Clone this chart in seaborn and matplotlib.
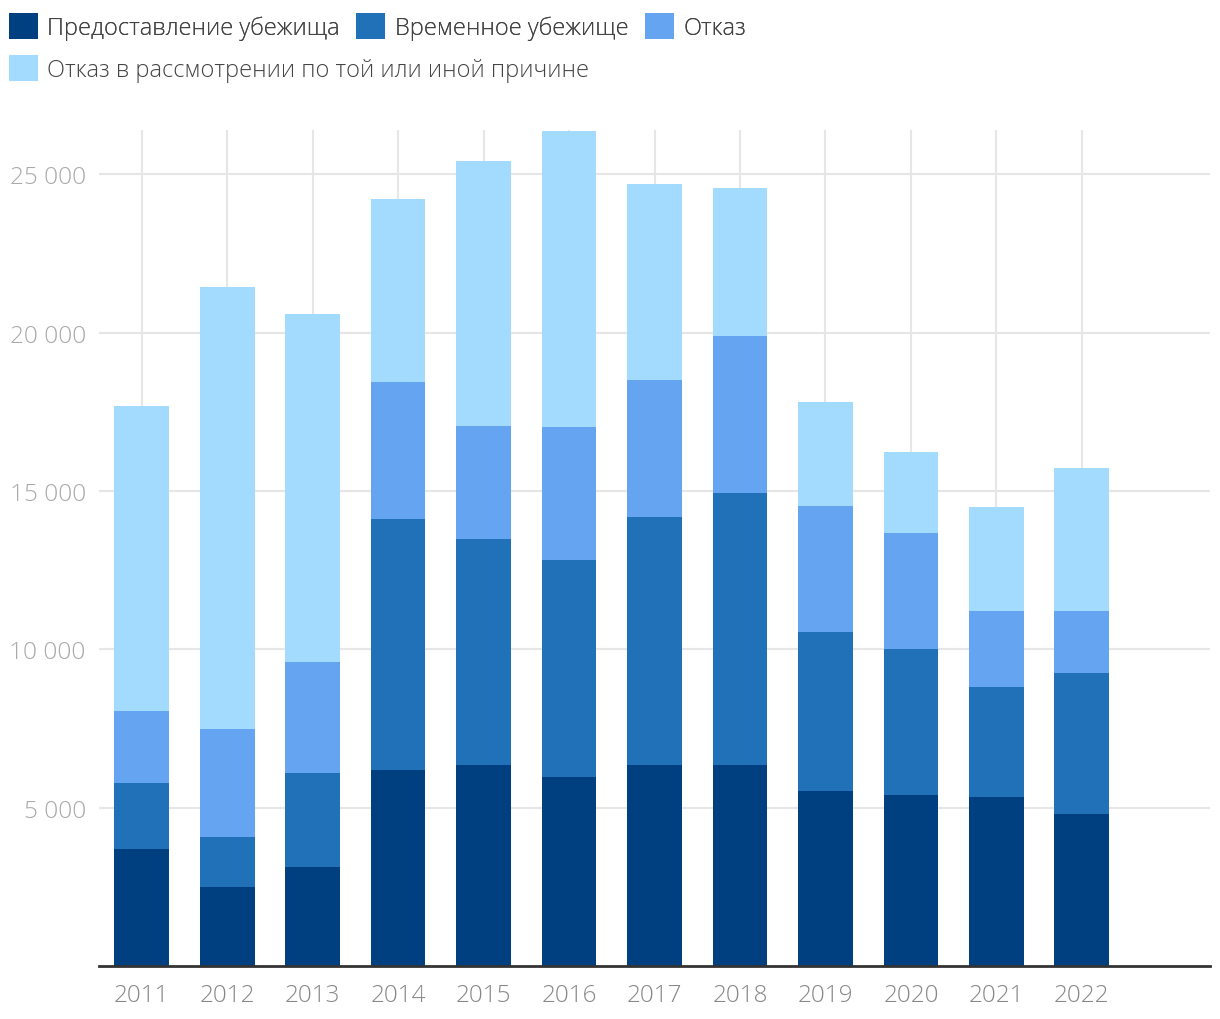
import matplotlib
matplotlib.use("Agg")
import matplotlib.pyplot as plt
import seaborn as sns
import numpy as np
import pandas as pd
from matplotlib.patches import Patch
from matplotlib.ticker import FuncFormatter

years = ["2011", "2012", "2013", "2014", "2015", "2016", "2017", "2018", "2019", "2020", "2021", "2022"]
series_names = ["Предоставление убежища", "Временное убежище", "Отказ",
                "Отказ в рассмотрении по той или иной причине"]
granted = [3700, 2500, 3120, 6190, 6350, 5970, 6350, 6350, 5520, 5400, 5330, 4800]
temporary = [2080, 1570, 2970, 7920, 7130, 6850, 7820, 8580, 5020, 4610, 3470, 4450]
refusal = [2270, 3410, 3500, 4320, 3570, 4200, 4330, 4960, 3980, 3660, 2400, 1960]
not_considered = [9630, 13950, 10990, 5780, 8360, 9340, 6190, 4670, 3280, 2550, 3280, 4510]
colors = ["#004080", "#2171b9", "#64a4f0", "#a2dbfd"]

df = pd.DataFrame({"year": years, "s0": granted, "s1": temporary, "s2": refusal, "s3": not_considered})

sns.set_theme(style="white")
plt.rcParams['font.family'] = ['Open Sans', 'DejaVu Sans']

fig = plt.figure(figsize=(12.2, 10.2), dpi=100)
ax = fig.add_axes([99/1220, 53/1020, (1210-99)/1220, (967-131)/1020])

cols = ["s0", "s1", "s2", "s3"]
cum = df[cols].cumsum(axis=1)
for i in range(3, -1, -1):
    sns.barplot(x=df["year"], y=cum[cols[i]], color=colors[i], saturation=1,
                width=0.64, ax=ax, zorder=3, linewidth=0)

ax.set_xlim(-0.5, 12.5)
ax.set_ylim(0, 26400)
ax.set_yticks([5000, 10000, 15000, 20000, 25000])
ax.yaxis.set_major_formatter(FuncFormatter(lambda v, p: f"{int(v):,}".replace(",", " ")))
ax.set_xlabel("")
ax.set_ylabel("")
ax.grid(True, axis="both", color="#e6e6e6", linewidth=1.5, zorder=0)
ax.set_axisbelow(True)
for s in ["top", "right", "left"]:
    ax.spines[s].set_visible(False)
ax.spines["bottom"].set_color("#333333")
ax.spines["bottom"].set_linewidth(2)
ax.spines["bottom"].set_zorder(5)
ax.tick_params(axis="y", length=0, pad=9.5, labelsize=17.6, labelcolor="#aaaaaa")
ax.tick_params(axis="x", length=0, pad=12, labelsize=17.5, labelcolor="#888888")
for t in ax.get_yticklabels() + ax.get_xticklabels():
    t.set_fontweight("light")

handles = [Patch(facecolor=c, edgecolor="none") for c in colors]
common = dict(frameon=False, fontsize=17.0, handlelength=1.22, handleheight=1.32,
              handletextpad=0.4, columnspacing=0.7, borderaxespad=0.0, borderpad=0.0,
              labelcolor="#444444")
leg1 = fig.legend(handles[:3], series_names[:3], loc="upper left",
                  bbox_to_anchor=(9/1220, 1 - 14/1020), ncol=3, **common)
fig.add_artist(leg1)
leg2 = fig.legend(handles[3:], series_names[3:], loc="upper left",
                  bbox_to_anchor=(9/1220, 1 - 56/1020), ncol=1, **common)
for leg in (leg1, leg2):
    for t in leg.get_texts():
        t.set_fontweight("light")

fig.savefig("out.png", dpi=100)
